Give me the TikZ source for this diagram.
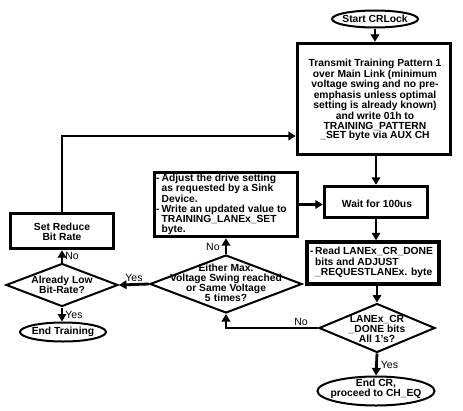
\documentclass[tikz,border=0pt]{standalone}
\usepackage{fontspec}
\setmainfont{Liberation Sans}
\usetikzlibrary{shapes.geometric,arrows.meta}
\tikzset{
  txt/.style={font=\bfseries\fontsize{10.3}{10}\selectfont, align=center, inner sep=0pt},
  ltxt/.style={font=\bfseries\fontsize{10.3}{9.5}\selectfont, align=left, inner sep=0pt},
  lbl/.style={font=\fontsize{10.5}{10}\selectfont, inner sep=1pt},
  procbox/.style={draw, line width=3.4pt, rectangle, inner sep=0pt},
  term/.style={draw, line width=2pt, ellipse, inner sep=0pt},
  decis/.style={draw, line width=2pt, diamond, inner sep=0pt},
  conn/.style={line width=2.8pt, -{Triangle[width=8.5pt,length=7.5pt]}},
}
\begin{document}
\begin{tikzpicture}[x=1pt,y=-1pt]
\path[use as bounding box, fill=white] (0,0) rectangle (463,410);
% terminals
\node[term, minimum width=86pt, minimum height=17pt] (start) at (375,19) {};
\node[txt] (starttxt) at (start) {Start CRLock};
% big box
\node[procbox, minimum width=153pt, minimum height=111pt] (tp) at (374,99) {};
\node[txt, font=\bfseries\fontsize{10.3}{9.6}\selectfont] (tptxt) at (375,100) {Transmit Training Pattern 1\\over Main Link (minimum\\voltage swing and no pre-\\emphasis unless optimal\\setting is already known)\\and write 01h to\\TRAINING\_PATTERN\\\_SET byte via AUX CH};
% wait
\node[procbox, minimum width=103pt, minimum height=31pt] (wait) at (376,202) {};
\node[txt] (waittxt) at (377,204) {Wait for 100us};
% read
\node[procbox, minimum width=132pt, minimum height=42pt] (read) at (373,263) {};
\node[ltxt, anchor=west, font=\bfseries\fontsize{10.3}{10}\selectfont] (readtxt) at (310,263) {\begin{tabular}{@{}l@{\hspace{1.5pt}}l@{}}-&Read LANEx\_CR\_DONE\\&bits and ADJUST\\&\_REQUESTLANEx. byte\end{tabular}};
% adjust
\node[procbox, minimum width=143pt, minimum height=64pt] (adj) at (226,204.5) {};
\node[ltxt, anchor=west] (adjtxt) at (156,205) {\begin{tabular}{@{}l@{\hspace{2pt}}l@{}}-&Adjust the drive setting\\&as requested by a Sink\\&Device.\\-&Write an updated value to\\&TRAINING\_LANEx\_SET\\&byte.\end{tabular}};
% set reduce
\node[procbox, minimum width=103pt, minimum height=35pt] (setr) at (62,231) {};
\node[txt] (setrtxt) at (62,232) {Set Reduce\\Bit Rate};
% diamonds
\node[decis, minimum width=152pt, minimum height=58pt] (either) at (226,284) {};
\node[txt] (eithertxt) at (226,283) {Either Max.\\Voltage Swing reached\\or Same Voltage\\5\,\,times?};
\node[decis, minimum width=112pt, minimum height=43pt] (low) at (62,285) {};
\node[txt] (lowtxt) at (low) {Already Low\\Bit-Rate?};
\node[decis, minimum width=116pt, minimum height=49pt] (lanex) at (377,328) {};
\node[txt] (lanextxt) at (377,329) {LANEx\_CR\\\_DONE bits\\All 1's?};
% ends
\node[term, minimum width=86pt, minimum height=19pt] (endt) at (63,332) {};
\node[txt] (endttxt) at (endt) {End Training};
\node[term, minimum width=117pt, minimum height=29pt] (endcr) at (376,391) {};
\node[txt] (endcrtxt) at (376,389) {End CR,\\proceed to CH\_EQ};
% connectors
\draw[conn] (start.south) -- (start.south |- tp.north);
\draw[conn] (tp.south -| wait.north) -- (wait.north);
\draw[conn] (wait.south) -- (wait.south |- read.north);
\draw[conn] (read.south -| lanex.north) -- (lanex.north);
\draw[conn] (lanex.south) -- (endcr.north) node[lbl, midway, right=2pt] (lyes) {Yes};
\coordinate (nocorner) at (either.south |- lanex.west);
\draw[conn] (lanex.west) -- (nocorner) -- (either.south);
\node[lbl] (lno) at (301,322) {No};
\draw[conn] (adj.east) -- (adj.east -| wait.west);
\draw[conn] (either.north) -- (either.north |- adj.south) node[lbl, pos=0.45, left=4pt] (eno) {No};
\draw[conn] (either.west) -- (low.east) node[lbl, midway, above=1pt] (eyes) {Yes};
\draw[conn] (low.north) -- (setr.south) node[lbl, midway, right=1pt] (lowno) {No};
\draw[conn] (low.south) -- (endt.north -| low.south) node[lbl, midway, right=1pt] (lowyes) {Yes};
\coordinate (topcorner) at (62,136);
\draw[conn] (setr.north) -- (topcorner) -- (topcorner -| tp.west);
\end{tikzpicture}
\end{document}
